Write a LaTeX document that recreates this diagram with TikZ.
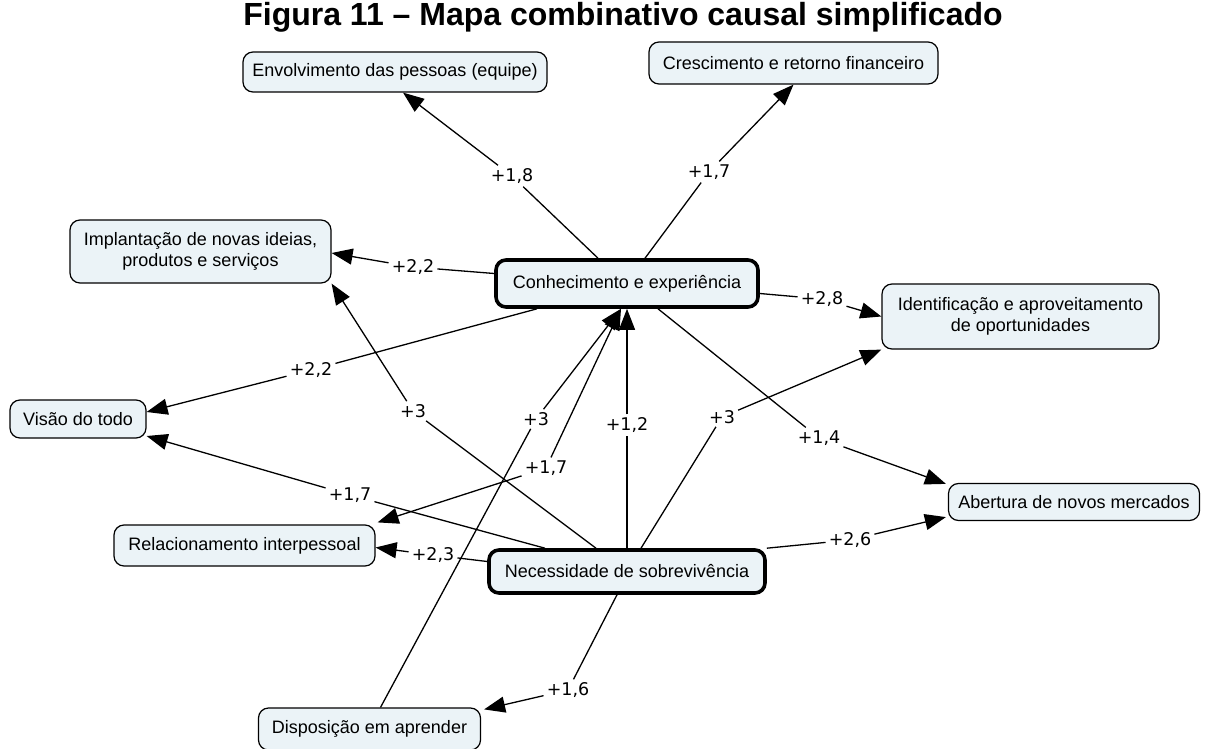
\documentclass[tikz,border=0pt]{standalone}
\usepackage{fontspec}
\setmainfont{Liberation Sans}
\newfontfamily\labelfont{DejaVu Sans}
\usetikzlibrary{arrows.meta,calc}
\definecolor{conceptfill}{RGB}{235,243,247}

\tikzset{
  concept/.style={draw=black, line width=1.2pt, fill=conceptfill,
    rounded corners=10pt, inner sep=0pt, align=center,
    font=\fontsize{18}{21}\selectfont},
  keyconcept/.style={concept, line width=3.6pt},
  weight/.style={inner sep=3pt, font=\labelfont\fontsize{17.5}{20}\selectfont},
  link/.style={line width=1.3pt, black},
  linkto/.style={link, -{Triangle[length=21pt,width=16pt]}},
}

\begin{document}
\begin{tikzpicture}[x=1pt,y=-1pt]
\useasboundingbox (0,0) rectangle (1210,749);

% title
\node[anchor=base, font=\fontsize{32}{36}\selectfont\bfseries] (title) at (623,26)
  {Figura 11 – Mapa combinativo causal simplificado};

% concepts
\node[concept, minimum width=304pt, minimum height=40pt] (envol) at (395,72)
  {Envolvimento das pessoas (equipe)};
\node[concept, minimum width=289pt, minimum height=42pt] (cresc) at (793.5,63)
  {Crescimento e retorno financeiro};
\node[concept, minimum width=261pt, minimum height=63pt] (impl) at (200.5,251.5)
  {Implantação de novas ideias,\\produtos e serviços};
\node[keyconcept, minimum width=262pt, minimum height=47pt] (conh) at (627,283.5)
  {Conhecimento e experiência};
\node[concept, minimum width=277pt, minimum height=65pt] (ident) at (1020.5,316.5)
  {Identificação e aproveitamento\\de oportunidades};
\node[concept, minimum width=136pt, minimum height=38pt] (visao) at (78,419)
  {Visão do todo};
\node[concept, minimum width=251pt, minimum height=37pt] (abert) at (1074,502)
  {Abertura de novos mercados};
\node[concept, minimum width=261pt, minimum height=41pt] (relac) at (244.5,545.5)
  {Relacionamento interpessoal};
\node[keyconcept, minimum width=276pt, minimum height=43pt] (nec) at (627,571.5)
  {Necessidade de sobrevivência};
\node[concept, minimum width=222pt, minimum height=42pt] (disp) at (369.5,729)
  {Disposição em aprender};

% weights
\node[weight] (w18)  at (512,176) {+1,8};
\node[weight] (w17a) at (709,172) {+1,7};
\node[weight] (w22a) at (413,267) {+2,2};
\node[weight] (w28)  at (822,299) {+2,8};
\node[weight] (w22b) at (311,370) {+2,2};
\node[weight] (w14)  at (819,438) {+1,4};
\node[weight] (w3a)  at (413,411) {+3};
\node[weight] (w3b)  at (536,419) {+3};
\node[weight] (w12)  at (627,425) {+1,2};
\node[weight] (w3c)  at (722,417) {+3};
\node[weight] (w17b) at (546,468) {+1,7};
\node[weight] (w17c) at (350,495) {+1,7};
\node[weight] (w23)  at (433,555) {+2,3};
\node[weight] (w26)  at (850,540) {+2,6};
\node[weight] (w16)  at (568,690) {+1,6};

% links from Conhecimento e experiencia
\draw[link]   ($(conh.north)+(-29,0)$) -- (w18);
\draw[linkto] (w18) -- ($(envol.south)+(8,0)$);
\draw[link]   ($(conh.north)+(18,0)$) -- (w17a);
\draw[linkto] (w17a) -- (cresc.south);
\draw[link]   ($(conh.west)+(0,-10)$) -- (w22a);
\draw[linkto] (w22a) -- ($(impl.east)+(0,1.5)$);
\draw[link]   ($(conh.east)+(0,10)$) -- (w28);
\draw[linkto] (w28) -- (ident.west);
\draw[link]   ($(conh.south)+(-90,0)$) -- (w22b);
\draw[linkto] (w22b) -- ($(visao.east)+(0,-7)$);
\draw[link]   ($(conh.south)+(31,0)$) -- (w14);
\draw[linkto] (w14) -- ($(abert.north west)+(-2,1)$);

% links from Necessidade de sobrevivencia
\draw[link]   ($(nec.north)+(-31,0)$) -- (w3a);
\draw[linkto] (w3a) -- (impl.south east);
\draw[link]   ($(nec.north)+(-82,0)$) -- (w17c);
\draw[linkto] (w17c) -- ($(visao.east)+(0,17)$);
\draw[link]   ($(nec.west)+(0,-10)$) -- (w23);
\draw[linkto] (w23) -- ($(relac.east)+(0,2)$);
\draw[link]   (nec.north) -- (w12);
\draw[linkto] (w12) -- (conh.south);
\draw[link]   ($(nec.north)+(14,0)$) -- (w3c);
\draw[linkto] (w3c) -- (ident.south west);
\draw[link]   (nec.north east) -- (w26);
\draw[linkto] (w26) -- ($(abert.south west)+(-2,-4)$);
\draw[link]   ($(nec.south)+(-10,0)$) -- (w16);
\draw[linkto] (w16) -- ($(disp.north east)+(3,2)$);

% links into Conhecimento e experiencia
\draw[link]   ($(disp.north)+(11,0)$) -- (w3b);
\draw[linkto] (w3b) -- ($(conh.south)+(-6,0)$);
\draw[linkto] (w17b) -- ($(conh.south)+(-6,0)$);
\draw[linkto] (w17b) -- ($(relac.north east)+(2,-2)$);
\end{tikzpicture}
\end{document}
